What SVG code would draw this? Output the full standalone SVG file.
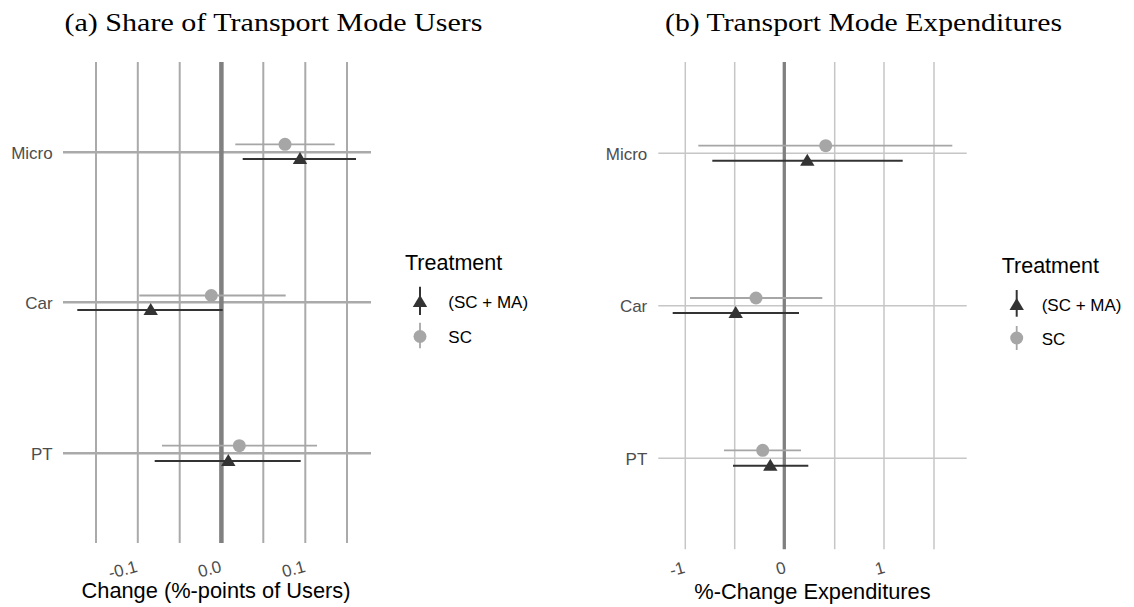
<svg xmlns="http://www.w3.org/2000/svg" width="1134" height="607" viewBox="0 0 1134 607">
<style>
.title{font-family:"Liberation Serif","DejaVu Serif",serif;font-size:25px;fill:#000}
.ylab{font-family:"Liberation Sans",Arial,sans-serif;font-size:17px;fill:#4d4d4d;text-anchor:end;dominant-baseline:central}
.tick{font-family:"Liberation Sans",Arial,sans-serif;font-size:17px;fill:#4d4d4d;text-anchor:end}
.axt{font-family:"Liberation Sans",Arial,sans-serif;font-size:21.8px;fill:#000;text-anchor:middle}
.legt{font-family:"Liberation Sans",Arial,sans-serif;font-size:21.5px;fill:#000}
.legi{font-family:"Liberation Sans",Arial,sans-serif;font-size:17px;fill:#000;dominant-baseline:central}
.gl{stroke:#aaaaaa;stroke-width:2}
.gr{stroke:#c6c6c6;stroke-width:1.5}
.zl{stroke:#808080;stroke-width:4.5}
.zr{stroke:#808080;stroke-width:3.3}
.sc{stroke:#a6a6a6;stroke-width:1.8}
.tr{stroke:#333333;stroke-width:2}
.pt-sc{fill:#a6a6a6}
.pt-tr{fill:#333333}
</style>
<defs>
<path id="tri" d="M0,-7 L7.2,5 L-7.2,5 Z"/>
</defs>
<rect width="1134" height="607" fill="#ffffff"/>

<text class="title" x="64.5" y="31" textLength="418" lengthAdjust="spacingAndGlyphs">(a) Share of Transport Mode Users</text>
<text class="title" x="665" y="31" textLength="397" lengthAdjust="spacingAndGlyphs">(b) Transport Mode Expenditures</text>

<g id="panel-a-grid">
<line class="gl" x1="96" y1="62" x2="96" y2="543"/>
<line class="gl" x1="137.8" y1="62" x2="137.8" y2="543"/>
<line class="gl" x1="179.7" y1="62" x2="179.7" y2="543"/>
<line class="gl" x1="263.3" y1="62" x2="263.3" y2="543"/>
<line class="gl" x1="305.3" y1="62" x2="305.3" y2="543"/>
<line class="gl" x1="347" y1="62" x2="347" y2="543"/>
<line class="gl" style="stroke-width:2.5" x1="63" y1="152.3" x2="371" y2="152.3"/>
<line class="gl" style="stroke-width:2.5" x1="63" y1="302.3" x2="371" y2="302.3"/>
<line class="gl" style="stroke-width:2.5" x1="63" y1="453.3" x2="371" y2="453.3"/>
<line class="zl" x1="221.4" y1="62" x2="221.4" y2="543"/>
</g>
<g id="panel-a-labels">
<text class="ylab" x="52.7" y="153.3">Micro</text>
<text class="ylab" x="52.7" y="303.3">Car</text>
<text class="ylab" x="52.7" y="454.3">PT</text>
<text class="tick" transform="translate(138.5,571.5) rotate(-15)">-0.1</text>
<text class="tick" transform="translate(222.5,571.5) rotate(-15)">0.0</text>
<text class="tick" transform="translate(306.5,571.5) rotate(-15)">0.1</text>
<text class="axt" x="216" y="598">Change (%-points of Users)</text>
</g>
<g id="panel-a-data">
<line class="sc" x1="235.3" y1="144.3" x2="334.7" y2="144.3"/>
<circle class="pt-sc" cx="285" cy="144.3" r="6.5"/>
<line class="tr" x1="242.7" y1="159" x2="356" y2="159"/>
<use href="#tri" class="pt-tr" x="300" y="159"/>
<line class="sc" x1="139.3" y1="295.5" x2="285.7" y2="295.5"/>
<circle class="pt-sc" cx="211.3" cy="295.5" r="6.5"/>
<line class="tr" x1="77.3" y1="310" x2="222.7" y2="310"/>
<use href="#tri" class="pt-tr" x="150.7" y="310"/>
<line class="sc" x1="162" y1="445.7" x2="317" y2="445.7"/>
<circle class="pt-sc" cx="239.3" cy="445.7" r="6.5"/>
<line class="tr" x1="154.7" y1="461" x2="300.7" y2="461"/>
<use href="#tri" class="pt-tr" x="228.3" y="461"/>
</g>
<g id="legend-a">
<text class="legt" x="405" y="270">Treatment</text>
<line class="tr" x1="420" y1="286.7" x2="420" y2="315"/>
<use href="#tri" class="pt-tr" x="420" y="302"/>
<text class="legi" x="448.3" y="302.5">(SC + MA)</text>
<line class="sc" x1="420" y1="322.7" x2="420" y2="348.3"/>
<circle class="pt-sc" cx="420" cy="336.5" r="6.5"/>
<text class="legi" x="448.3" y="337">SC</text>
</g>

<g id="panel-b-grid">
<line class="gr" x1="685.3" y1="62" x2="685.3" y2="549.3"/>
<line class="gr" x1="734.7" y1="62" x2="734.7" y2="549.3"/>
<line class="gr" x1="834.7" y1="62" x2="834.7" y2="549.3"/>
<line class="gr" x1="884" y1="62" x2="884" y2="549.3"/>
<line class="gr" x1="934" y1="62" x2="934" y2="549.3"/>
<line class="gr" x1="658.3" y1="153.3" x2="966.7" y2="153.3"/>
<line class="gr" x1="658.3" y1="305.7" x2="966.7" y2="305.7"/>
<line class="gr" x1="658.3" y1="458.3" x2="966.7" y2="458.3"/>
<line class="zr" x1="784.3" y1="62" x2="784.3" y2="549.3"/>
</g>
<g id="panel-b-labels">
<text class="ylab" x="647.3" y="154.3">Micro</text>
<text class="ylab" x="647.3" y="306.7">Car</text>
<text class="ylab" x="647.3" y="459.3">PT</text>
<text class="tick" transform="translate(686,572.5) rotate(-15)">-1</text>
<text class="tick" transform="translate(787,572.5) rotate(-15)">0</text>
<text class="tick" transform="translate(886,572.5) rotate(-15)">1</text>
<text class="axt" x="812.5" y="599">%-Change Expenditures</text>
</g>
<g id="panel-b-data">
<line class="sc" x1="698.3" y1="145.7" x2="952.3" y2="145.7"/>
<circle class="pt-sc" cx="825.7" cy="145.7" r="6.5"/>
<line class="tr" x1="712.3" y1="160.7" x2="902.7" y2="160.7"/>
<use href="#tri" class="pt-tr" x="807.3" y="160.7"/>
<line class="sc" x1="690" y1="298" x2="822.3" y2="298"/>
<circle class="pt-sc" cx="756" cy="298" r="6.5"/>
<line class="tr" x1="672.7" y1="313" x2="799" y2="313"/>
<use href="#tri" class="pt-tr" x="735.7" y="313"/>
<line class="sc" x1="724" y1="450.3" x2="801" y2="450.3"/>
<circle class="pt-sc" cx="762.7" cy="450.3" r="6.5"/>
<line class="tr" x1="733" y1="465.7" x2="808.3" y2="465.7"/>
<use href="#tri" class="pt-tr" x="770.3" y="465.7"/>
</g>
<g id="legend-b">
<text class="legt" x="1001.7" y="273">Treatment</text>
<line class="tr" x1="1016.7" y1="290" x2="1016.7" y2="316.7"/>
<use href="#tri" class="pt-tr" x="1016.7" y="305"/>
<text class="legi" x="1041.7" y="305">(SC + MA)</text>
<line class="sc" x1="1016.7" y1="326" x2="1016.7" y2="350"/>
<circle class="pt-sc" cx="1016.7" cy="338" r="6.5"/>
<text class="legi" x="1041.7" y="339">SC</text>
</g>
</svg>
